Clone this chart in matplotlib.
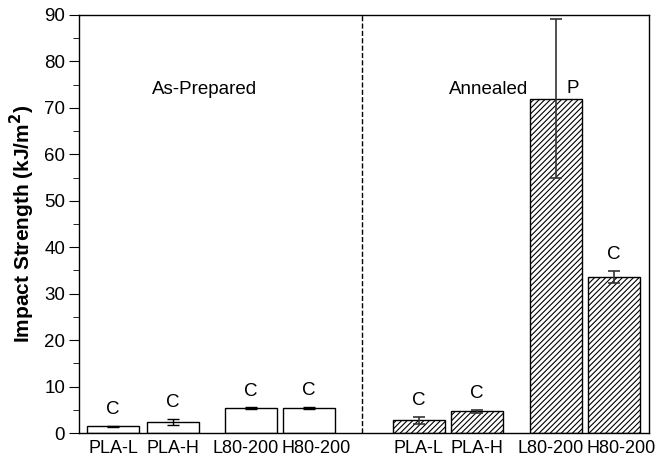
import numpy as np
import matplotlib.pyplot as plt
from matplotlib.transforms import ScaledTranslation

plt.rcParams['font.family'] = ['Liberation Sans', 'DejaVu Sans']
plt.rcParams['hatch.linewidth'] = 0.8

# data
labels = ['PLA-L', 'PLA-H', 'L80-200', 'H80-200']
prepared = [1.4, 2.4, 5.3, 5.4]
prepared_err = [0.2, 0.6, 0.2, 0.3]
annealed = [2.7, 4.7, 72.0, 33.5]
annealed_err = [0.7, 0.3, 17.2, 1.3]
prep_marks = ['C', 'C', 'C', 'C']
ann_marks = ['C', 'C', 'P', 'C']

# layout (pixel-like units)
x_prep = np.array([113, 172.5, 251, 309])
x_ann = np.array([418.5, 477, 556, 614])
w = 52
label_shift = [0, 0, -5, 7] * 2  # px, labels are spread a bit in the original

fig = plt.figure(figsize=(6.62, 4.57), dpi=100)
ax = fig.add_axes([79 / 662, 1 - 433 / 457, 570 / 662, 418 / 457])

ax.bar(x_prep, prepared, width=w, color='white', edgecolor='black', linewidth=1)
ax.errorbar(x_prep, prepared, yerr=prepared_err, fmt='none', ecolor='black',
            elinewidth=1, capsize=4, capthick=1)
ax.bar(x_ann, annealed, width=w, color='white', edgecolor='black', linewidth=1,
       hatch='//////')
ax.errorbar(x_ann, annealed, yerr=annealed_err, fmt='none', ecolor='#333333',
            elinewidth=1.2, capsize=4, capthick=1.2)

for x, v, e, m in zip(x_prep, prepared, prepared_err, prep_marks):
    ax.text(x, v + e + 1.7, m, ha='center', va='bottom', fontsize=13.5)
for x, v, e, m in zip(x_ann, annealed, annealed_err, ann_marks):
    if m == 'P':
        ax.text(x + 17, v + 0.3, m, ha='center', va='bottom', fontsize=13.5)
    else:
        ax.text(x, v + e + 1.7, m, ha='center', va='bottom', fontsize=13.5)

ax.axvline(362, color='black', linestyle='--', linewidth=1)
ax.text(205, 74, 'As-Prepared', ha='center', va='center', fontsize=13.5)
ax.text(489, 74, 'Annealed', ha='center', va='center', fontsize=13.5)

ax.set_xlim(79, 649)
ax.set_ylim(0, 90)
ax.set_yticks(np.arange(0, 91, 10))
ax.set_yticks(np.arange(5, 90, 10), minor=True)
ax.set_xticks(np.concatenate([x_prep, x_ann]))
ax.set_xticklabels(labels + labels, fontsize=13)
ax.tick_params(axis='x', length=0, pad=5)
ax.tick_params(axis='y', which='major', length=7, direction='out', labelsize=13.5, pad=3)
ax.tick_params(axis='y', which='minor', length=4, direction='out')
for lbl, dx in zip(ax.get_xticklabels(), label_shift):
    lbl.set_transform(lbl.get_transform() + ScaledTranslation(dx / 100, 0, fig.dpi_scale_trans))
for s in ax.spines.values():
    s.set_linewidth(1)
ax.set_ylabel('Impact Strength (kJ/m$^\\mathbf{2}$)', fontsize=15, fontweight='bold',
              labelpad=5)

fig.savefig('out.png', dpi=100)
